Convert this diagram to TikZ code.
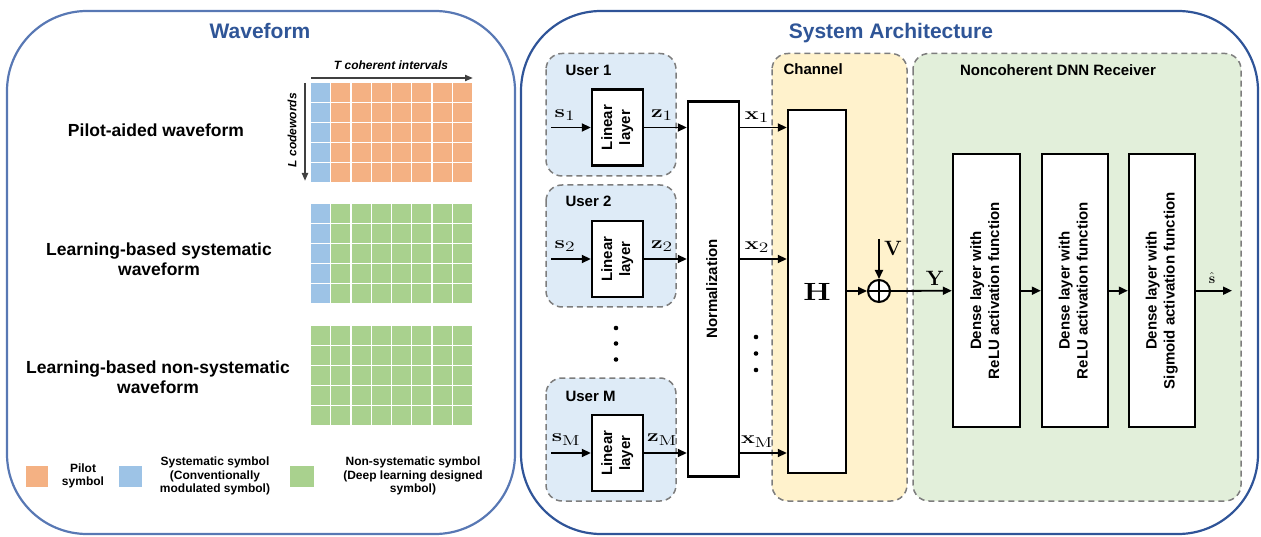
\documentclass[tikz,border=0pt]{standalone}
\usepackage[no-math]{fontspec}
\setmainfont{Liberation Sans}
\usetikzlibrary{arrows.meta}

\definecolor{wavblue}{RGB}{88,120,180}
\definecolor{archblue}{RGB}{47,84,152}
\definecolor{titleblue}{RGB}{47,85,151}
\definecolor{dashgray}{RGB}{125,125,125}
\definecolor{userfill}{RGB}{222,235,247}
\definecolor{chanfill}{RGB}{255,242,204}
\definecolor{recvfill}{RGB}{226,239,218}
\definecolor{pilot}{RGB}{244,177,131}
\definecolor{sysblue}{RGB}{157,195,230}
\definecolor{nonsys}{RGB}{169,209,142}
\definecolor{axisgray}{RGB}{64,64,64}

\newcommand{\vtext}[1]{\rotatebox{90}{\begin{tabular}{@{}c@{}}#1\end{tabular}}}
\newcommand{\widemath}[1]{\scalebox{1.35}[1]{$#1$}}

\tikzset{
  conn/.style={line width=1.8pt,-{Triangle[length=9pt,width=8pt]}},
  axisarrow/.style={axisgray,line width=2pt,-{Triangle[length=8pt,width=6pt]}},
  blockbox/.style={draw,line width=2.4pt,fill=white,inner sep=0pt,
    font=\fontsize{15}{18}\selectfont\bfseries},
  groupbox/.style={draw=dashgray,dash pattern=on 6pt off 4pt,line width=1.5pt,
    rounded corners=16pt},
  grouplabel/.style={anchor=west,font=\fontsize{15}{18}\selectfont\bfseries},
  panel/.style={line width=2.2pt,rounded corners=80pt},
  paneltitle/.style={titleblue,font=\fontsize{21}{24}\selectfont\bfseries},
  wavelabel/.style={align=center,font=\fontsize{17.5}{20.5}\selectfont\bfseries},
  legendtext/.style={align=center,font=\fontsize{12}{13.5}\selectfont\bfseries},
  mathlabel/.style={inner sep=1pt,font=\fontsize{19}{21}\selectfont},
}

\begin{document}
\begin{tikzpicture}[x=1pt,y=-1pt]
  \useasboundingbox (0,0) rectangle (1261,537);
  % waveform panel
  \draw[panel,wavblue] (7,11) rectangle (515,534);
  \node[paneltitle] (wavtitle) at (260,31) {Waveform};
  \node[wavelabel] (pilotwf) at (156,130) {Pilot-aided waveform};
  \node[wavelabel] (syswf) at (159,259) {Learning-based systematic\\waveform};
  \node[wavelabel] (nonsyswf) at (158,377) {Learning-based non-systematic\\waveform};
  \foreach \gy/\first/\rest in {83/sysblue/pilot,204.5/sysblue/nonsys,326/nonsys/nonsys}{
    \foreach \r in {0,...,4}{
      \fill[\first] (311,\gy+\r*20) rectangle +(19,18.6);
      \foreach \c in {1,...,7}
        \fill[\rest] (311+\c*20.25,\gy+\r*20) rectangle +(19,18.6);
    }
  }
  \coordinate (tstart) at (311,78);
  \coordinate (tend) at (473,78);
  \draw[axisarrow] (tstart) -- (tend);
  \node[font=\fontsize{12}{14}\selectfont\bfseries\itshape] (tlabel) at (391,65)
    {T coherent intervals};
  \coordinate (lstart) at (305,83);
  \coordinate (lend) at (305,181);
  \draw[axisarrow] (lstart) -- (lend);
  \node[font=\fontsize{12}{14}\selectfont\bfseries\itshape] (llabel) at (292,130)
    {\rotatebox{90}{L codewords}};
  % legend
  \fill[pilot] (26,466) rectangle (48,487);
  \node[legendtext] (pilotleg) at (83,476) {Pilot\\symbol};
  \fill[sysblue] (119,466) rectangle (142,487);
  \node[legendtext] (sysleg) at (215,476)
    {Systematic symbol\\(Conventionally\\modulated symbol)};
  \fill[nonsys] (290,466) rectangle (314,487);
  \node[legendtext] (nonsysleg) at (413,476)
    {Non-systematic symbol\\(Deep learning designed\\symbol)};

  % architecture panel
  \draw[panel,archblue] (521,11) rectangle (1258,534);
  \node[paneltitle] (archtitle) at (891,33) {System Architecture};
  \draw[groupbox,fill=userfill] (546,53.5) rectangle (676,176);
  \draw[groupbox,fill=userfill] (546,185) rectangle (676,307);
  \draw[groupbox,fill=userfill] (546,378) rectangle (676,501);
  \draw[groupbox,fill=chanfill] (772,53.5) rectangle (907,501);
  \draw[groupbox,fill=recvfill] (913,53.5) rectangle (1241,501);
  \node[grouplabel] (user1) at (562,70) {User 1};
  \node[grouplabel] (user2) at (562,201) {User 2};
  \node[grouplabel] (userm) at (562,396) {User M};
  \node[grouplabel] (chanlabel) at (780,69) {Channel};
  \node[grouplabel,anchor=center] (recvlabel) at (1058,70) {Noncoherent DNN Receiver};

  \node[blockbox,minimum width=51,minimum height=76] (lin1) at (617.5,127.5) {\vtext{Linear\\layer}};
  \node[blockbox,minimum width=51,minimum height=76] (lin2) at (617.5,259) {\vtext{Linear\\layer}};
  \node[blockbox,minimum width=51,minimum height=76] (linm) at (617.5,453) {\vtext{Linear\\layer}};
  \node[blockbox,minimum width=51,minimum height=375] (norm) at (713.5,289) {\vtext{Normalization}};
  \node[blockbox,minimum width=58,minimum height=363] (chan) at (817,291.5)
    {\fontsize{23}{25}\selectfont\scalebox{1.25}[1]{$\mathbf{H}$}};
  \node[draw,circle,line width=2pt,minimum size=22,inner sep=0pt,fill=white] (add) at (879,291) {};
  \draw[line width=2pt] (add.north) -- (add.south) (add.west) -- (add.east);
  \node[blockbox,minimum width=67,minimum height=273] (dense1) at (986.5,290.7)
    {\vtext{Dense layer with\\ReLU activation function}};
  \node[blockbox,minimum width=66,minimum height=273] (dense2) at (1075,290.7)
    {\vtext{Dense layer with\\ReLU activation function}};
  \node[blockbox,minimum width=66,minimum height=273] (dense3) at (1162,290.7)
    {\vtext{Dense layer with\\Sigmoid activation function}};

  % inputs and links
  \coordinate (s1in) at (551,127.5);
  \coordinate (s2in) at (551,259);
  \coordinate (smin) at (551,453);
  \draw[conn] (s1in) -- (lin1.west);
  \draw[conn] (s2in) -- (lin2.west);
  \draw[conn] (smin) -- (linm.west);
  \draw[conn] (lin1.east) -- (norm.west |- lin1.east);
  \draw[conn] (lin2.east) -- (norm.west |- lin2.east);
  \draw[conn] (linm.east) -- (norm.west |- linm.east);
  \draw[conn] (norm.east |- lin1.east) -- (chan.west |- lin1.east);
  \draw[conn] (norm.east |- lin2.east) -- (chan.west |- lin2.east);
  \draw[conn] (norm.east |- linm.east) -- (chan.west |- linm.east);
  \node[mathlabel] (s1) at (565,115) {\widemath{\mathbf{s}_1}};
  \node[mathlabel] (s2) at (565,246) {\widemath{\mathbf{s}_2}};
  \node[mathlabel] (sm) at (566,440) {\widemath{\mathbf{s}_{\mathrm{M}}}};
  \node[mathlabel] (z1) at (662,115) {\widemath{\mathbf{z}_1}};
  \node[mathlabel] (z2) at (662,246) {\widemath{\mathbf{z}_2}};
  \node[mathlabel] (zm) at (662,440) {\widemath{\mathbf{z}_{\mathrm{M}}}};
  \node[mathlabel] (x1) at (757,117) {\widemath{\mathbf{x}_1}};
  \node[mathlabel] (x2) at (757,247) {\widemath{\mathbf{x}_2}};
  \node[mathlabel] (xm) at (757,442) {\widemath{\mathbf{x}_{\mathrm{M}}}};
  \foreach \dy in {328,343.5,359.5} \fill (616,\dy) circle (2.3);
  \foreach \dy in {337,353.5,370} \fill (756,\dy) circle (2.3);

  \coordinate (vin) at (879,239);
  \draw[conn] (chan.east |- add) -- (add.west);
  \draw[conn] (vin) -- (add.north);
  \node[font=\fontsize{20}{22}\selectfont] (vlabel) at (893,248) {$\mathbf{V}$};
  \draw[conn] (add.east) -- (dense1.west);
  \node[font=\fontsize{21}{23}\selectfont] (ylabel) at (935,278) {$\mathbf{Y}$};
  \draw[conn] (dense1.east) -- (dense2.west);
  \draw[conn] (dense2.east) -- (dense3.west);
  \coordinate (sout) at (1232,290.7);
  \draw[conn] (dense3.east) -- (sout);
  \node[font=\fontsize{14}{16}\selectfont] (shat) at (1212,278) {$\hat{\mathbf{s}}$};
\end{tikzpicture}
\end{document}
